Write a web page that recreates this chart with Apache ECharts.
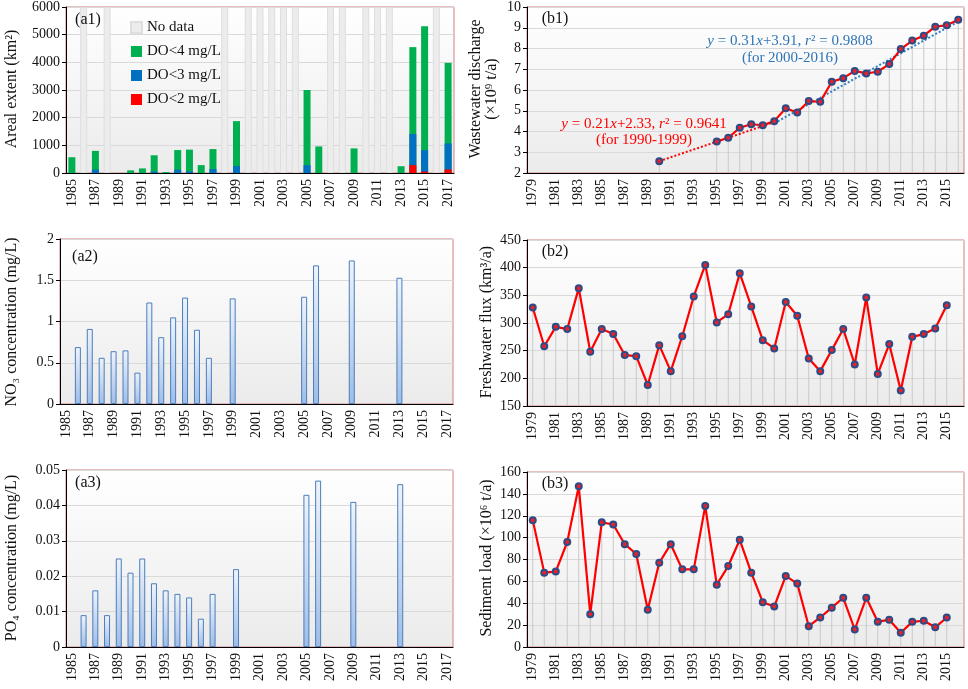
<!DOCTYPE html>
<html>
<head>
<meta charset="utf-8">
<script src="https://cdn.jsdelivr.net/npm/echarts@6/dist/echarts.min.js"></script>
<style>
  html, body { margin: 0; padding: 0; background: #fff; }
  #chart { width: 968px; height: 689px; }
</style>
</head>
<body>
<div id="chart"></div>
<script>
// categories
const yearsA = ['1985','1986','1987','1988','1989','1990','1991','1992','1993','1994','1995','1996','1997','1998','1999','2000','2001','2002','2003','2004','2005','2006','2007','2008','2009','2010','2011','2012','2013','2014','2015','2016','2017'];
const yearsB = ['1979','1980','1981','1982','1983','1984','1985','1986','1987','1988','1989','1990','1991','1992','1993','1994','1995','1996','1997','1998','1999','2000','2001','2002','2003','2004','2005','2006','2007','2008','2009','2010','2011','2012','2013','2014','2015','2016'];

// (a1) hypoxia areal extent, km2
const noData = [null,6000,null,6000,null,null,null,null,null,null,null,null,null,6000,null,6000,6000,6000,6000,6000,null,null,6000,6000,null,6000,6000,6000,null,null,null,6000,null];
const do4 = [570,null,800,null,null,95,165,640,35,830,845,285,865,null,1875,null,null,null,null,null,3000,960,null,null,890,null,null,null,245,4550,5300,null,3980];
const do3 = [null,null,120,null,null,null,null,50,null,120,60,null,140,null,250,null,null,null,null,null,285,null,null,null,null,null,null,null,null,1410,830,null,1070];
const do2 = [null,null,null,null,null,null,null,null,null,null,null,null,null,null,null,null,null,null,null,null,null,null,null,null,null,null,null,null,null,285,50,null,130];

// (a2) NO3, (a3) PO4, mg/L
const no3 = [null,0.69,0.91,0.56,0.64,0.65,0.38,1.23,0.81,1.05,1.29,0.90,0.56,null,1.28,null,null,null,null,null,1.30,1.68,null,null,1.74,null,null,null,1.53,null,null,null,null];
const po4 = [null,0.009,0.016,0.009,0.025,0.021,0.025,0.018,0.016,0.015,0.014,0.008,0.015,null,0.022,null,null,null,null,null,0.043,0.047,null,null,0.041,null,null,null,0.046,null,null,null,null];

// (b1) wastewater discharge, 1e9 t/a, and the two fitted lines (end points)
const wastewater = [null,null,null,null,null,null,null,null,null,null,null,2.57,null,null,null,null,3.52,3.70,4.18,4.35,4.30,4.50,5.12,4.92,5.47,5.43,6.40,6.57,6.92,6.80,6.88,7.25,7.97,8.38,8.62,9.05,9.12,9.38];
const fit1990 = [null,null,null,null,null,null,null,null,null,null,null,2.57,null,null,null,null,null,null,null,null,null,4.45,null,null,null,null,null,null,null,null,null,null,null,null,null,null,null,null];
const fit2000 = [null,null,null,null,null,null,null,null,null,null,null,null,null,null,null,null,null,null,null,null,null,4.40,null,null,null,null,null,null,null,null,null,null,null,null,null,null,null,9.30];

// (b2) freshwater flux km3/a, (b3) sediment load 1e6 t/a
const freshwater = [328,258,293,289,363,248,289,280,242,240,188,260,213,276,348,405,301,316,390,330,269,254,338,313,236,213,251,289,225,346,208,262,178,275,280,290,332,null];
const sediment = [116,68,69,96,147,30,114,112,94,85,34,77,94,71,71,129,57,74,98,68,41,37,65,58,19,27,36,45,16,45,23,25,13,23,24,18,27,null];

const FONT = 'Liberation Serif';
const chart = echarts.init(document.getElementById('chart'));

const plotBg = {
  type: 'linear', x: 0, y: 0, x2: 0, y2: 1,
  colorStops: [{ offset: 0, color: '#ffffff' }, { offset: 1, color: '#ebebeb' }]
};
const barFill = {
  type: 'linear', x: 0, y: 0, x2: 0, y2: 1,
  colorStops: [{ offset: 0, color: '#eef4fc' }, { offset: 1, color: '#9fbde8' }]
};

function grid(left, right, top, height) {
  return { left, right, top, height, show: true, backgroundColor: plotBg,
    borderColor: '#d47f7f', borderWidth: 1, containLabel: false };
}
function xAxis(idx, data) {
  return {
    type: 'category', gridIndex: idx, data: data, boundaryGap: true,
    axisLine: { lineStyle: { color: '#000', width: 1 } },
    axisTick: { interval: 0, length: 5, lineStyle: { color: '#000' } },
    axisLabel: { interval: 1, rotate: 90, margin: 6, fontSize: 14, fontFamily: FONT, color: '#111' },
    splitLine: { show: false }
  };
}
function yAxis(idx, min, max, interval) {
  return {
    type: 'value', gridIndex: idx, min, max, interval,
    axisLine: { show: true, lineStyle: { color: '#000', width: 1 } },
    axisTick: { show: true, length: 4, lineStyle: { color: '#000' } },
    axisLabel: { margin: 6, fontSize: 14, fontFamily: FONT, color: '#111',
      formatter: v => String(+v.toFixed(4)) },
    splitLine: { lineStyle: { color: '#d9d9d9' } }
  };
}
function dropLines(idx, data) {
  return { type: 'bar', xAxisIndex: idx, yAxisIndex: idx, data, barWidth: 1, silent: true,
    itemStyle: { color: '#c9c9c9' }, z: 1 };
}
function pointLine(idx, data) {
  return { type: 'line', xAxisIndex: idx, yAxisIndex: idx, data, connectNulls: false,
    symbol: 'circle', symbolSize: 6, showSymbol: true, showAllSymbol: true,
    lineStyle: { color: '#ff0000', width: 2.2 },
    itemStyle: { color: '#e8202a', borderColor: '#2b4c86', borderWidth: 2 }, z: 5 };
}
function nutrientBars(idx, data) {
  return { type: 'bar', xAxisIndex: idx, yAxisIndex: idx, data, barWidth: 6,
    itemStyle: { color: barFill, borderColor: '#4a7ebb', borderWidth: 1 } };
}
function vtext(x, y, text, size) {
  return { type: 'text', x, y, z: 100, rotation: Math.PI / 2,
    style: { text, fontSize: size || 16, fontFamily: FONT, fill: '#111', align: 'center', verticalAlign: 'middle' } };
}
function ptext(x, y, text) {
  return { type: 'text', x, y, z: 100,
    style: { text, fontSize: 16, fontFamily: FONT, fill: '#111', align: 'center', verticalAlign: 'middle' } };
}
function fitText(x, y, text, color) {
  const base = { fontSize: 15, fontFamily: FONT, fill: color };
  return { type: 'text', x, y, z: 100,
    style: Object.assign({ text, align: 'center', verticalAlign: 'middle',
      rich: { i: Object.assign({ fontStyle: 'italic' }, base) } }, base) };
}

const a1Bar = { type: 'bar', xAxisIndex: 0, yAxisIndex: 0, barWidth: 7, barGap: '-100%' };

const option = {
  animation: false,
  backgroundColor: '#fff',
  grid: [
    grid(66, 514, 5, 168),
    grid(60, 515, 239, 165),
    grid(66, 515, 470, 177),
    grid(527, 4, 5, 168),
    grid(527, 4, 240, 166),
    grid(527, 4, 472, 175)
  ],
  xAxis: [xAxis(0, yearsA), xAxis(1, yearsA), xAxis(2, yearsA), xAxis(3, yearsB), xAxis(4, yearsB), xAxis(5, yearsB)],
  yAxis: [
    yAxis(0, 0, 6000, 1000),
    yAxis(1, 0, 2, 0.5),
    yAxis(2, 0, 0.05, 0.01),
    yAxis(3, 2, 10, 1),
    yAxis(4, 150, 450, 50),
    yAxis(5, 0, 160, 20)
  ],
  legend: {
    orient: 'vertical', left: 125, top: 15, itemGap: 9, itemWidth: 11, itemHeight: 11,
    icon: 'rect',
    textStyle: { fontSize: 15, fontFamily: FONT, color: '#111' },
    data: ['No data', 'DO<4 mg/L', 'DO<3 mg/L', 'DO<2 mg/L']
  },
  series: [
    Object.assign({}, a1Bar, { name: 'No data', data: noData, itemStyle: { color: '#ececec', borderColor: '#dedede', borderWidth: 1 } }),
    Object.assign({}, a1Bar, { name: 'DO<4 mg/L', data: do4, itemStyle: { color: '#00b050' } }),
    Object.assign({}, a1Bar, { name: 'DO<3 mg/L', data: do3, itemStyle: { color: '#0070c0' } }),
    Object.assign({}, a1Bar, { name: 'DO<2 mg/L', data: do2, itemStyle: { color: '#ff0000' } }),
    nutrientBars(1, no3),
    nutrientBars(2, po4),
    dropLines(3, wastewater),
    { type: 'line', xAxisIndex: 3, yAxisIndex: 3, data: fit1990, connectNulls: true, showSymbol: false,
      lineStyle: { color: '#ff0000', width: 2, type: 'dotted' }, z: 3 },
    { type: 'line', xAxisIndex: 3, yAxisIndex: 3, data: fit2000, connectNulls: true, showSymbol: false,
      lineStyle: { color: '#2e7fc4', width: 2, type: 'dotted' }, z: 3 },
    pointLine(3, wastewater),
    dropLines(4, freshwater),
    pointLine(4, freshwater),
    dropLines(5, sediment),
    pointLine(5, sediment)
  ],
  graphic: [
    vtext(12, 89, 'Areal extent (km²)'),
    vtext(12, 322, 'NO₃ concentration (mg/L)'),
    vtext(12, 558, 'PO₄ concentration (mg/L)'),
    vtext(476, 89, 'Wastewater discharge'),
    vtext(492, 89, '(×10⁹ t/a)'),
    vtext(487, 322, 'Freshwater flux (km³/a)'),
    vtext(487, 558, 'Sediment load (×10⁶ t/a)'),
    ptext(88, 20, '(a1)'),
    ptext(85, 257, '(a2)'),
    ptext(88, 483, '(a3)'),
    ptext(555, 19, '(b1)'),
    ptext(555, 252, '(b2)'),
    ptext(555, 484, '(b3)'),
    fitText(790, 41, '{i|y} = 0.31{i|x}+3.91, {i|r}² = 0.9808', '#2e75b6'),
    fitText(790, 58, '(for 2000-2016)', '#2e75b6'),
    fitText(644, 124, '{i|y} = 0.21{i|x}+2.33, {i|r}² = 0.9641', '#ff0000'),
    fitText(644, 140, '(for 1990-1999)', '#ff0000')
  ]
};
chart.setOption(option);
</script>
</body>
</html>
